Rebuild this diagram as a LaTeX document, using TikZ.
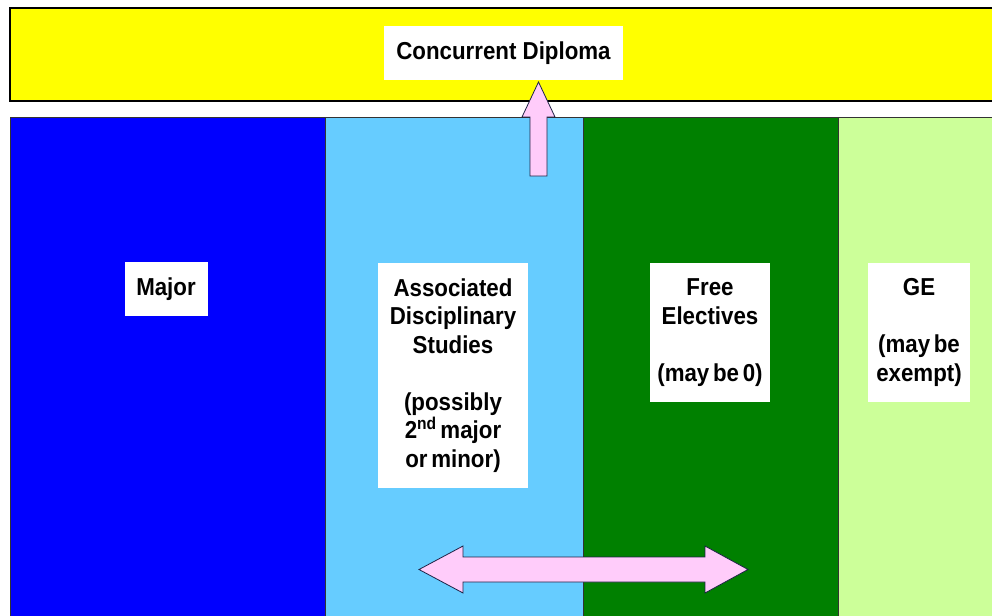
\documentclass[tikz,border=0pt]{standalone}
\usepackage{fontspec}
\setmainfont[FakeStretch=0.91,WordSpace=0.6]{Liberation Sans}
\newfontfamily\cdfont[FakeStretch=0.91]{Liberation Sans}
\definecolor{pinkfill}{RGB}{255,204,250}
\definecolor{arrowline}{RGB}{30,35,70}
\definecolor{ybar}{RGB}{255,255,0}
\definecolor{cmajor}{RGB}{0,0,255}
\definecolor{cads}{RGB}{102,204,255}
\definecolor{cfree}{RGB}{0,128,0}
\definecolor{cge}{RGB}{204,255,153}
\begin{document}
\begin{tikzpicture}[x=1pt,y=-1pt,
  lbl/.style={fill=white, inner sep=0pt, font=\fontsize{24.5}{28.5}\selectfont\bfseries, align=center},
  colbox/.style={draw=black!80, line width=0.8pt},
  blockarrow/.style={fill=pinkfill, draw=arrowline, line width=0.8pt, line join=miter}]
\useasboundingbox (0,0) rectangle (992,615);
\fill[white] (0,0) rectangle (992,615);
% yellow band
\draw[fill=ybar, draw=black, line width=1.2pt] (10,8) rectangle (1000,101);
% columns
\draw[colbox, fill=cmajor] (10,117) rectangle (325,620);
\draw[colbox, fill=cads] (325,117) rectangle (583,620);
\draw[colbox, fill=cfree] (583,117) rectangle (838,620);
\draw[colbox, fill=cge] (838,117) rectangle (1000,620);
% labels
\node[lbl, minimum width=239pt, minimum height=54pt] (cd) at (503.5,53) {\cdfont\bfseries Concurrent Diploma};
\node[lbl, minimum width=83pt, minimum height=54pt] (major) at (166,289) {Major};
\node[lbl, minimum width=150pt, minimum height=225pt] (ads) at (453,375.5)
  {Associated\\Disciplinary\\Studies\\[28.5pt](possibly\\2\textsuperscript{nd} major\\or minor)};
\node[lbl, minimum width=120pt, minimum height=139pt] (free) at (710,332.5)
  {Free\\Electives\\[28.5pt](may be 0)};
\node[lbl, minimum width=102pt, minimum height=139pt] (ge) at (919,332.5)
  {GE\\[28.5pt](may be\\exempt)};
% up arrow
\coordinate (uptip) at (538.5,82);
\draw[blockarrow] (530,176) -- (530,117) -- (522,117) -- (uptip) -- (555,117) -- (547,117) -- (547,176) -- cycle;
% double arrow
\coordinate (ltip) at (419,569.5);
\coordinate (rtip) at (748,569.5);
\draw[blockarrow] (ltip) -- (463,546) -- (463,557) -- (705,557) -- (705,546) -- (rtip)
  -- (705,593) -- (705,582) -- (463,582) -- (463,593) -- cycle;
\end{tikzpicture}
\end{document}
